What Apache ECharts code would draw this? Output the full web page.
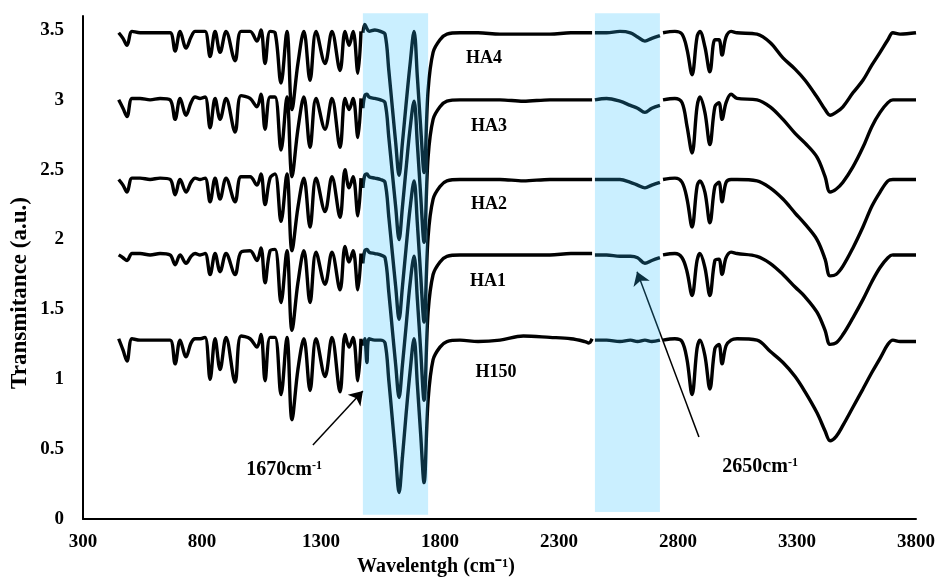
<!DOCTYPE html>
<html>
<head>
<meta charset="utf-8">
<title>FTIR spectra</title>
<script src="https://cdn.jsdelivr.net/npm/echarts/dist/echarts.min.js"></script>
<style>
  html, body { margin: 0; padding: 0; background: #fff; }
  #chart { width: 938px; height: 577px; }
</style>
</head>
<body>
<div id="chart"></div>
<script>
// wavenumber (cm-1) of each sample point, null rows break the line
var wavenumber = [450, 468, 485, 506, 540, 582, 624, 666, 687, 708,
  733, 754, 771, 792, 813, 834, 855, 876, 901, 939,
  964, 1002, 1031, 1048, 1065, 1086, 1107, 1132, 1157, 1178,
  1203, 1228, 1254, 1279, 1317, 1346, 1380, 1401, 1418, 1435,
  1455, 1468, 1472, 1476, 1484, 1493, 1502, 1526, 1550, 1569,
  1585, 1600, 1614, 1628, 1642, 1657, 1674, 1691, 1705, 1719,
  1733, 1750, 1771, 1800, 1829, 1884, 1960, 2052, 2150, 2262,
  2350, 2409, 2425, 2439, 2445, 2451, 2500, 2556, 2600, 2630,
  2661, 2690, 2724, 2730, 2737, 2787, 2817, 2838, 2859, 2880,
  2892, 2913, 2934, 2955, 2972, 2985, 3002, 3023, 3048, 3132,
  3187, 3241, 3292, 3334, 3384, 3418, 3439, 3464, 3493, 3535,
  3577, 3615, 3649, 3682, 3703, 3733, 3800];

var ha4 = [3.48, 3.44, 3.39, 3.49, 3.48, 3.48, 3.48, 3.48, 3.35, 3.49,
  3.37, 3.45, 3.49, 3.49, 3.49, 3.31, 3.49, 3.34, 3.49, 3.28,
  3.49, 3.49, 3.42, 3.50, 3.26, 3.49, 3.48, 3.12, 3.49, 2.93,
  3.26, 3.49, 3.14, 3.49, 3.26, 3.49, 3.21, 3.49, 3.39, 3.49,
  3.19, 3.49, null, 3.48, 3.54, 3.51, 3.49, 3.50, 3.49, 3.47,
  3.21, 2.94, 2.69, 2.46, 2.69, 2.96, 3.25, 3.49, 3.16, 2.80,
  2.48, 3.07, 3.34, 3.43, 3.47, 3.48, 3.48, 3.47, 3.47, 3.47,
  3.48, 3.48, 3.48, 3.48, null, 3.48, 3.48, 3.49, 3.48, 3.45,
  3.42, 3.44, 3.46, null, 3.48, 3.49, 3.47, 3.36, 3.18, 3.45,
  3.49, 3.38, 3.20, 3.43, 3.43, 3.32, 3.45, 3.49, 3.48, 3.47,
  3.41, 3.30, 3.22, 3.14, 3.02, 2.93, 2.89, 2.91, 2.95, 3.05,
  3.14, 3.25, 3.34, 3.43, 3.48, 3.47, 3.48];

var ha3 = [3.00, 2.94, 2.88, 3.01, 3.01, 3.00, 3.01, 3.00, 2.86, 3.01,
  2.89, 2.98, 3.02, 3.01, 3.02, 2.80, 3.01, 2.86, 3.01, 2.77,
  3.03, 3.01, 2.95, 3.04, 2.79, 3.02, 3.02, 2.64, 3.02, 2.45,
  2.79, 3.02, 2.66, 3.01, 2.79, 3.01, 2.66, 3.01, 2.93, 3.01,
  2.73, 3.01, null, 2.94, 3.03, 3.04, 3.02, 3.01, 3.00, 2.98,
  2.73, 2.47, 2.23, 2.00, 2.23, 2.50, 2.79, 2.99, 2.68, 2.31,
  1.98, 2.59, 2.86, 2.95, 2.99, 3.00, 3.00, 3.00, 2.99, 3.00,
  3.00, 3.00, 3.00, 3.00, null, 3.00, 3.01, 2.99, 2.96, 2.94,
  2.91, 2.94, 2.96, null, 3.00, 3.01, 2.98, 2.81, 2.62, 2.95,
  3.02, 2.91, 2.68, 2.95, 2.98, 2.86, 2.98, 3.04, 3.01, 3.00,
  2.95, 2.86, 2.76, 2.69, 2.59, 2.45, 2.34, 2.36, 2.41, 2.52,
  2.66, 2.81, 2.91, 2.98, 3.00, 3.00, 3.00];

var ha2 = [2.43, 2.39, 2.34, 2.44, 2.44, 2.43, 2.44, 2.43, 2.32, 2.43,
  2.34, 2.41, 2.44, 2.43, 2.44, 2.27, 2.44, 2.29, 2.44, 2.27,
  2.45, 2.45, 2.39, 2.47, 2.25, 2.44, 2.47, 2.13, 2.47, 1.92,
  2.23, 2.44, 2.09, 2.44, 2.20, 2.45, 2.16, 2.50, 2.37, 2.45,
  2.17, 2.44, null, 2.37, 2.46, 2.47, 2.45, 2.44, 2.43, 2.41,
  2.16, 1.90, 1.66, 1.43, 1.66, 1.93, 2.22, 2.42, 2.11, 1.74,
  1.41, 2.02, 2.29, 2.38, 2.42, 2.43, 2.43, 2.43, 2.42, 2.43,
  2.43, 2.43, 2.43, 2.43, null, 2.43, 2.43, 2.43, 2.41, 2.39,
  2.37, 2.39, 2.41, null, 2.43, 2.44, 2.41, 2.29, 2.09, 2.38,
  2.42, 2.34, 2.12, 2.38, 2.41, 2.27, 2.41, 2.43, 2.43, 2.42,
  2.37, 2.29, 2.19, 2.11, 2.00, 1.86, 1.74, 1.75, 1.81, 1.94,
  2.09, 2.24, 2.34, 2.42, 2.43, 2.43, 2.43];

var ha1 = [1.89, 1.87, 1.85, 1.90, 1.90, 1.89, 1.90, 1.89, 1.82, 1.89,
  1.83, 1.88, 1.90, 1.89, 1.90, 1.75, 1.90, 1.77, 1.90, 1.75,
  1.91, 1.92, 1.85, 1.94, 1.69, 1.92, 1.93, 1.55, 1.92, 1.35,
  1.69, 1.92, 1.55, 1.91, 1.68, 1.91, 1.64, 1.95, 1.84, 1.92,
  1.64, 1.90, null, 1.83, 1.92, 1.93, 1.91, 1.90, 1.89, 1.87,
  1.62, 1.35, 1.10, 0.87, 1.10, 1.37, 1.68, 1.88, 1.57, 1.20,
  0.85, 1.48, 1.75, 1.84, 1.88, 1.89, 1.89, 1.89, 1.89, 1.89,
  1.90, 1.90, 1.90, 1.90, null, 1.89, 1.89, 1.88, 1.88, 1.87,
  1.83, 1.85, 1.87, null, 1.89, 1.90, 1.87, 1.77, 1.60, 1.85,
  1.90, 1.80, 1.60, 1.85, 1.86, 1.75, 1.87, 1.91, 1.90, 1.88,
  1.83, 1.75, 1.66, 1.59, 1.48, 1.35, 1.25, 1.26, 1.32, 1.44,
  1.57, 1.70, 1.80, 1.87, 1.89, 1.89, 1.89];

var h150 = [1.29, 1.21, 1.13, 1.29, 1.28, 1.28, 1.28, 1.28, 1.11, 1.28,
  1.16, 1.26, 1.29, 1.29, 1.30, 1.00, 1.29, 1.07, 1.30, 0.98,
  1.31, 1.29, 1.23, 1.32, 0.99, 1.30, 1.30, 0.89, 1.30, 0.71,
  1.07, 1.29, 0.92, 1.29, 1.02, 1.30, 0.91, 1.32, 1.23, 1.30,
  0.99, 1.29, null, 1.24, 1.29, 1.12, 1.29, 1.28, 1.28, 1.26,
  0.99, 0.71, 0.44, 0.19, 0.44, 0.74, 1.05, 1.29, 0.96, 0.60,
  0.26, 0.85, 1.14, 1.23, 1.27, 1.28, 1.27, 1.28, 1.31, 1.30,
  1.29, 1.27, 1.26, 1.29, null, 1.28, 1.28, 1.27, 1.28, 1.27,
  1.28, 1.27, 1.28, null, 1.28, 1.29, 1.27, 1.14, 0.89, 1.22,
  1.28, 1.17, 0.93, 1.22, 1.25, 1.11, 1.24, 1.28, 1.29, 1.28,
  1.20, 1.12, 1.02, 0.91, 0.76, 0.63, 0.56, 0.59, 0.67, 0.80,
  0.93, 1.05, 1.15, 1.25, 1.28, 1.27, 1.27];

var xTicks = [300, 800, 1300, 1800, 2300, 2800, 3300, 3800];
var yTicks = [0, 0.5, 1, 1.5, 2, 2.5, 3, 3.5];

// shaded bands: [from, to, bottom, top]
var bands = [[1476, 1750, 0.03, 3.62], [2451, 2724, 0.05, 3.62]];

// sample names and where they are written
var sampleNames = ['HA4', 'HA3', 'HA2', 'HA1', 'H150'];
var sampleLabelX = [1985, 2006, 2006, 2002, 2035];
var sampleLabelY = [3.30, 2.81, 2.25, 1.70, 1.05];

// peak notes and arrows [tailX, tailY, tipX, tipY]
var peakNames = ['1670', '2650'];
var peakNoteX = [1145, 3145];
var peakNoteY = [0.35, 0.372];
var peakArrows = [[1266, 0.53, 1476, 0.916], [2888, 0.587, 2628, 1.77]];

var serif = '"Liberation Serif", "Times New Roman", serif';

function pairs(values) {
    return wavenumber.map(function (x, i) { return [x, values[i]]; });
}

var spectra = [ha4, ha3, ha2, ha1, h150];
var lineSeries = spectra.map(function (values, i) {
    return {
        name: sampleNames[i],
        type: 'line',
        data: pairs(values),
        symbol: 'none',
        smooth: 0.35,
        connectNulls: false,
        silent: true,
        z: 2,
        lineStyle: { color: '#000', width: 3.4 }
    };
});

var myChart = echarts.init(document.getElementById('chart'));

myChart.setOption({
    animation: false,
    backgroundColor: '#fff',
    grid: { left: 83, right: 22, top: 16, bottom: 58, containLabel: false },
    xAxis: {
        type: 'value',
        min: 300,
        max: 3800,
        axisLine: { show: true, onZero: false, lineStyle: { color: '#000', width: 2 } },
        axisTick: { show: false },
        splitLine: { show: false },
        axisLabel: {
            customValues: xTicks,
            formatter: function (v) { return String(v); },
            margin: 14,
            color: '#000',
            fontSize: 19,
            fontWeight: 'bold',
            fontFamily: serif
        }
    },
    yAxis: {
        type: 'value',
        min: 0,
        max: 3.6,
        axisLine: { show: true, lineStyle: { color: '#000', width: 2 } },
        axisTick: { show: false },
        splitLine: { show: false },
        axisLabel: {
            customValues: yTicks,
            formatter: function (v) { return String(v); },
            margin: 19,
            color: '#000',
            fontSize: 19,
            fontWeight: 'bold',
            fontFamily: serif
        }
    },
    graphic: [
        {
            type: 'text',
            x: 20,
            y: 293,
            rotation: Math.PI / 2,
            style: {
                text: 'Transmitance (a.u.)',
                font: 'bold 23px ' + serif,
                fill: '#000',
                align: 'center',
                verticalAlign: 'middle'
            }
        },
        {
            type: 'text',
            x: 436,
            y: 567,
            style: {
                text: 'Wavelentgh (cm\u207B\u00B9)',
                font: 'bold 20px ' + serif,
                fill: '#000',
                align: 'center',
                verticalAlign: 'middle'
            }
        }
    ],
    series: lineSeries.concat([
        {
            // translucent blue bands laid over the spectra
            name: 'bands',
            type: 'custom',
            z: 5,
            silent: true,
            clip: false,
            data: bands,
            renderItem: function (params, api) {
                var p0 = api.coord([api.value(0), api.value(3)]);
                var p1 = api.coord([api.value(1), api.value(2)]);
                return {
                    type: 'rect',
                    shape: { x: p0[0], y: p0[1], width: p1[0] - p0[0], height: p1[1] - p0[1] },
                    style: { fill: 'rgba(44,192,255,0.25)' }
                };
            }
        },
        {
            name: 'sampleLabels',
            type: 'scatter',
            z: 6,
            silent: true,
            symbolSize: 0,
            itemStyle: { opacity: 1 },
            data: sampleNames.map(function (n, i) {
                return { name: n, value: [sampleLabelX[i], sampleLabelY[i]] };
            }),
            label: {
                show: true,
                position: 'inside',
                formatter: function (p) { return p.name; },
                color: '#000',
                textBorderWidth: 0,
                fontSize: 18,
                fontWeight: 'bold',
                fontFamily: serif
            }
        },
        {
            name: 'peakNotes',
            type: 'scatter',
            z: 6,
            silent: true,
            symbolSize: 0,
            itemStyle: { opacity: 1 },
            data: peakNames.map(function (n, i) {
                return { name: n, value: [peakNoteX[i], peakNoteY[i]] };
            }),
            label: {
                show: true,
                position: 'inside',
                textBorderWidth: 0,
                formatter: function (p) { return '{b|' + p.name + 'cm}{s|-1}'; },
                rich: {
                    b: { color: '#000', fontSize: 20, fontWeight: 'bold', fontFamily: serif, textBorderWidth: 0 },
                    s: { color: '#000', fontSize: 12, fontWeight: 'bold', fontFamily: serif, textBorderWidth: 0, verticalAlign: 'top' }
                }
            },
            markLine: {
                silent: true,
                symbol: ['none', 'arrow'],
                symbolSize: 13,
                label: { show: false },
                lineStyle: { color: '#000', width: 1.5, type: 'solid' },
                data: peakArrows.map(function (a) {
                    return [{ coord: [a[0], a[1]] }, { coord: [a[2], a[3]] }];
                })
            }
        }
    ])
});
</script>
</body>
</html>
